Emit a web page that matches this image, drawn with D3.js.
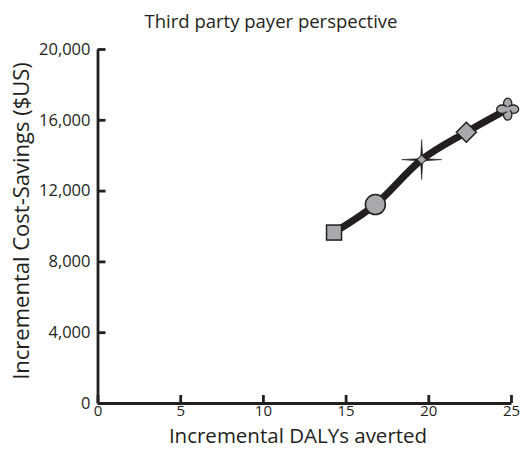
<!DOCTYPE html>
<html><head><meta charset="utf-8">
<script src="https://cdn.jsdelivr.net/npm/d3@7/dist/d3.min.js"></script>
<style>body{margin:0;background:#fff}svg{display:block;font-family:"Open Sans",sans-serif}</style>
</head><body><svg id="c" width="530" height="449"></svg>
<script>
const strategies = ["A","B","C","D","E"];
const dalys = [14.3, 16.8, 19.6, 22.3, 24.8];
const savings = [9630, 11210, 13750, 15300, 16600];
const markerTypes = ["square","circle","star","diamond","flower"];
const xTicks = [0,5,10,15,20,25];
const yTicks = [0,4000,8000,12000,16000,20000];
const title = "Third party payer perspective";
const xTitle = "Incremental DALYs averted";
const yTitle = "Incremental Cost-Savings ($US)";

const svg = d3.select("#c");
const x = d3.scaleLinear().domain([0,25]).range([97.5,511]);
const y = d3.scaleLinear().domain([0,20000]).range([403,49]);
const ink = "#231f20";

const xa = svg.append("g").attr("transform",`translate(0,${y(0)})`)
  .call(d3.axisBottom(x).tickValues(xTicks).tickSize(-8).tickPadding(2).tickSizeOuter(0));
const ya = svg.append("g").attr("transform",`translate(${x(0)},0)`)
  .call(d3.axisLeft(y).tickValues(yTicks).tickSize(-8).tickPadding(7).tickSizeOuter(0).tickFormat(d3.format(",")));
[xa,ya].forEach(a=>{
  a.select(".domain").attr("stroke",ink).attr("stroke-width",2.8);
  a.selectAll(".tick line").attr("stroke",ink).attr("stroke-width",2.8);
  a.selectAll(".tick text").attr("fill",ink).style("font-size","15px").style("font-family","'Open Sans',sans-serif");
});
ya.selectAll(".tick text").style("font-size","16.5px");

svg.append("text").attr("x",271).attr("y",28).attr("text-anchor","middle")
  .style("font-size","18.5px").attr("fill",ink).text(title);
svg.append("text").attr("x",298).attr("y",442.5).attr("text-anchor","middle")
  .style("font-size","20.5px").attr("fill",ink).text(xTitle);
svg.append("text").attr("transform","translate(29,221) rotate(-90)").attr("text-anchor","middle")
  .style("font-size","22px").attr("fill",ink).text(yTitle);

const pts = dalys.map((d,i)=>[x(d),y(savings[i])]);
svg.append("path").attr("d",d3.line().curve(d3.curveCatmullRom.alpha(0.5))(pts))
  .attr("fill","none").attr("stroke",ink).attr("stroke-width",7).attr("stroke-linecap","round");

const fill = "#a7a9ac", st = ink;
pts.forEach((p,i)=>{
  const g = svg.append("g").attr("transform",`translate(${p[0]},${p[1]})`);
  const t = markerTypes[i];
  if(t==="square") g.append("rect").attr("x",-7.5).attr("y",-7.5).attr("width",15).attr("height",15).attr("fill",fill).attr("stroke",st).attr("stroke-width",1.5);
  if(t==="circle") g.append("circle").attr("r",10).attr("fill",fill).attr("stroke",st).attr("stroke-width",1.5);
  if(t==="diamond") g.append("path").attr("d","M0,-10L10,0L0,10L-10,0Z").attr("fill",fill).attr("stroke",st).attr("stroke-width",1.5);
  if(t==="star"){
    g.append("path").attr("d","M0,-20L1,-3.5L3.5,-1L20,0L3.5,1L1,3.5L0,20L-1,3.5L-3.5,1L-20,0L-3.5,-1L-1,-3.5Z").attr("fill",ink).attr("stroke",ink).attr("stroke-width",0.6);
    g.append("path").attr("d","M0,-4.5L4.5,0L0,4.5L-4.5,0Z").attr("fill",fill).attr("stroke",st).attr("stroke-width",1);
  }
  if(t==="flower"){
    [0,90,180,270].forEach(a=>{
      g.append("ellipse").attr("cx",0).attr("cy",-5.5).attr("rx",4.2).attr("ry",5.5)
        .attr("transform",`rotate(${a})`).attr("fill",fill).attr("stroke",st).attr("stroke-width",1.3);
    });
    g.append("circle").attr("r",2.5).attr("fill",fill);
  }
});
</script></body></html>
